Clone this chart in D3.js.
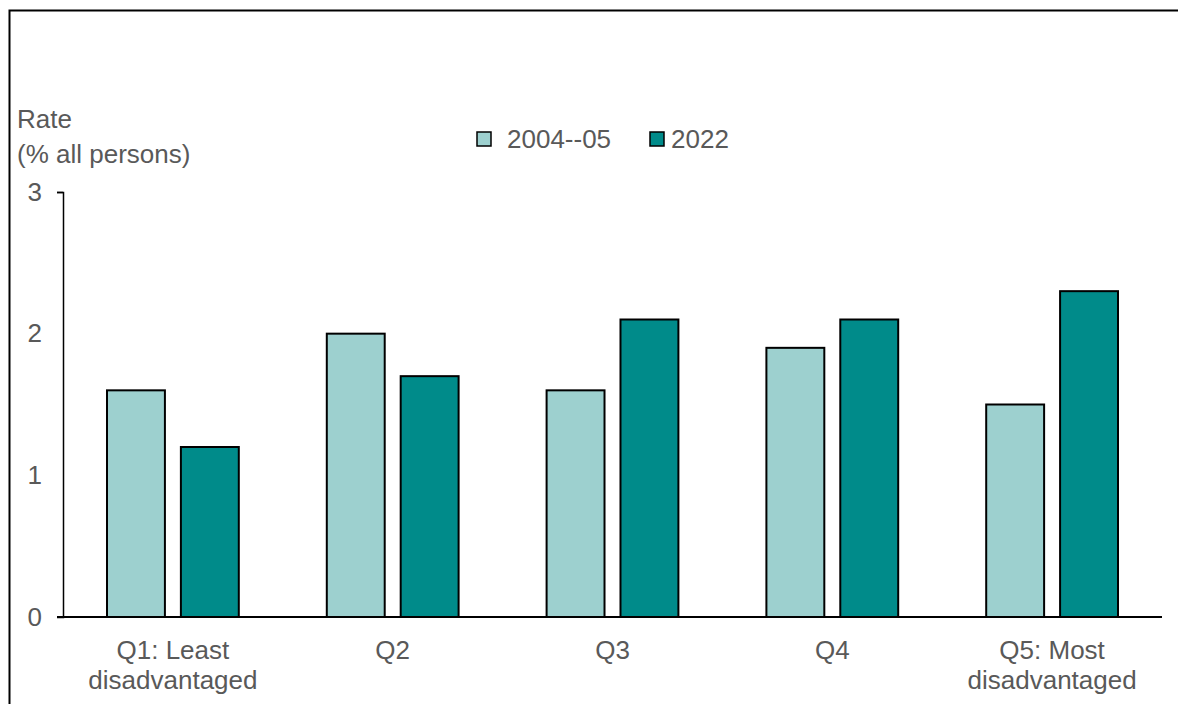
<!DOCTYPE html>
<html lang="en">
<head>
    <meta charset="UTF-8">
    <title>Rate by quintile</title>
    <script src="https://d3js.org/d3.v7.min.js"></script>
    <style>
        body { margin: 0; background: #fff; }
        svg { display: block; font-family: "Liberation Sans", Arial, sans-serif; }
    </style>
</head>
<body>
    <div id="chart"></div>
    <script>
        // Données
        var categories = [["Q1: Least", "disadvantaged"], ["Q2"], ["Q3"], ["Q4"], ["Q5: Most", "disadvantaged"]];
        var series = ["2004--05", "2022"];
        var values2004 = [1.6, 2.0, 1.6, 1.9, 1.5];
        var values2022 = [1.2, 1.7, 2.1, 2.1, 2.3];
        var yTicks = [0, 1, 2, 3];
        var colors = ["#9dd0cf", "#008b8a"];

        var W = 1178, H = 704;
        var fs = "26px";
        var svg = d3.select("#chart").append("svg").attr("width", W).attr("height", H);

        // cadre
        svg.append("rect").attr("x", 9.5).attr("y", 10.5).attr("width", W + 10).attr("height", H + 10)
            .attr("fill", "none").attr("stroke", "#000").attr("stroke-width", 2);

        var mLeft = 63, mRight = 1162, mTop = 192, mBottom = 617;
        var keys = categories.map(function(d, i) { return "c" + i; });

        var x = d3.scaleBand().domain(keys).range([mLeft, mRight]);
        // deux barres de 58px séparées de 16px
        var xs = d3.scaleBand().domain(series).range([44, x.bandwidth() - 44]).paddingInner(16 / 74);
        var y = d3.scaleLinear().domain([0, 3]).range([mBottom, mTop]);

        var rows = keys.map(function(k, i) {
            return { key: k, vals: [values2004[i], values2022[i]] };
        });

        var g = svg.selectAll("g.cat").data(rows).enter().append("g")
            .attr("class", "cat")
            .attr("transform", function(d) { return "translate(" + x(d.key) + ",0)"; });

        g.selectAll("rect").data(function(d) { return d.vals; }).enter().append("rect")
            .attr("x", function(d, i) { return xs(series[i]); })
            .attr("width", xs.bandwidth())
            .attr("y", function(d) { return y(d); })
            .attr("height", function(d) { return y(0) - y(d); })
            .attr("fill", function(d, i) { return colors[i]; })
            .attr("stroke", "#000").attr("stroke-width", 2);

        // axe Y
        var yAxis = svg.append("g").attr("transform", "translate(" + mLeft + ",0)")
            .call(d3.axisLeft(y).tickValues(yTicks).tickSize(6).tickPadding(15).tickFormat(d3.format("d")));
        yAxis.select(".domain").attr("stroke", "#000").attr("stroke-width", 1.5);
        yAxis.selectAll(".tick line").attr("stroke", "#000").attr("stroke-width", 1.5);
        yAxis.selectAll(".tick text").attr("fill", "#595959").style("font-size", fs)
            .style("font-family", "Liberation Sans, Arial, sans-serif");
        yAxis.selectAll(".tick line").filter(function(d) { return d !== 3; }).remove();

        // axe X
        svg.append("line").attr("x1", mLeft - 6).attr("x2", mRight).attr("y1", mBottom).attr("y2", mBottom)
            .attr("stroke", "#000").attr("stroke-width", 2);

        svg.selectAll("text.xl").data(categories).enter().append("text")
            .attr("class", "xl")
            .attr("x", function(d, i) { return x(keys[i]) + x.bandwidth() / 2; })
            .attr("y", 659)
            .attr("text-anchor", "middle").attr("fill", "#595959").style("font-size", fs)
            .each(function(d) {
                var t = d3.select(this);
                d.forEach(function(line, j) {
                    t.append("tspan").attr("x", t.attr("x")).attr("dy", j === 0 ? 0 : 30).text(line);
                });
            });

        // titre de l'axe
        svg.append("text").attr("x", 17).attr("y", 128).attr("fill", "#595959").style("font-size", fs).text("Rate");
        svg.append("text").attr("x", 17).attr("y", 163).attr("fill", "#595959").style("font-size", fs).text("(% all persons)");

        // légende
        var legX = [477, 650], legT = [507, 671];
        series.forEach(function(s, i) {
            svg.append("rect").attr("x", legX[i]).attr("y", 132).attr("width", 14).attr("height", 14)
                .attr("fill", colors[i]).attr("stroke", "#000").attr("stroke-width", 1.5);
            svg.append("text").attr("x", legT[i]).attr("y", 148).attr("fill", "#595959")
                .style("font-size", fs).text(s);
        });
    </script>
</body>
</html>
